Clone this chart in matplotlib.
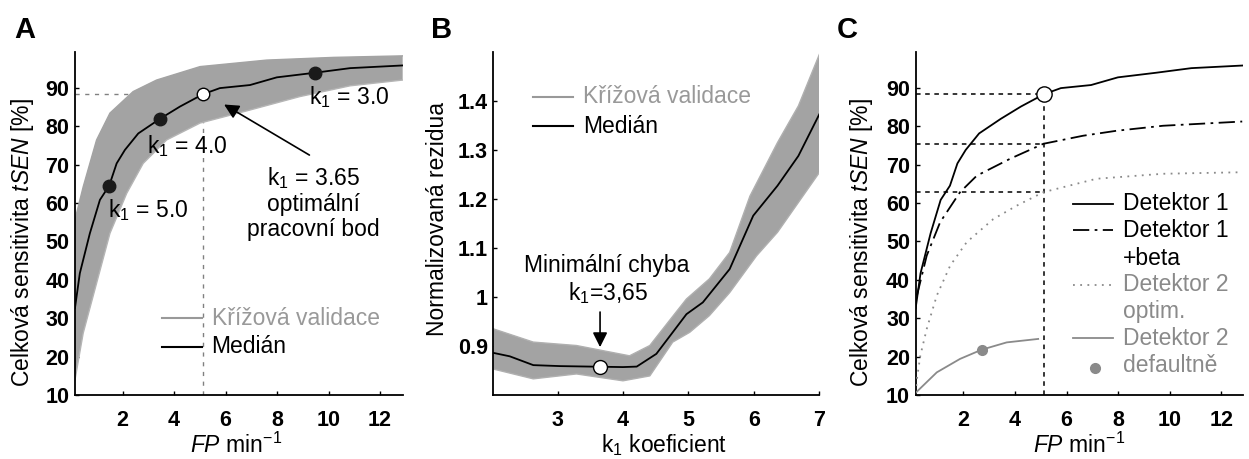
import matplotlib
matplotlib.use('Agg')
import matplotlib.pyplot as plt
import numpy as np

plt.rcParams['font.family'] = ['Liberation Sans', 'DejaVu Sans']
plt.rcParams['mathtext.fontset'] = 'custom'
plt.rcParams['mathtext.rm'] = 'Liberation Sans'
plt.rcParams['mathtext.it'] = 'Liberation Sans:italic'
plt.rcParams['mathtext.bf'] = 'Liberation Sans:bold'

# --- A: krizova validace, median krivka (FP/min vs. tSEN) ---
fp_med = [0.15, 0.34, 0.73, 1.12, 1.48, 1.77, 2.09, 2.61, 3.45, 4.23, 5.12,
          5.78, 6.95, 7.99, 9.47, 10.84, 12.88]
sen_med = [32.6, 41.7, 52.1, 60.8, 64.5, 70.3, 73.8, 78.1, 81.9, 85.1, 88.3,
           89.9, 90.7, 92.7, 93.9, 95.1, 95.8]
# obalka sedeho svazku krivek
fp_hi = [0.15, 0.47, 0.99, 1.51, 2.41, 3.32, 5.01, 7.60, 10.19, 12.88]
sen_hi = [55.6, 64.2, 76.4, 83.4, 89.0, 92.0, 95.5, 97.2, 97.9, 98.3]
fp_lo = [0.15, 0.47, 0.99, 1.51, 2.16, 2.80, 3.71, 5.01, 6.95, 8.89, 10.84, 12.88]
sen_lo = [13.9, 26.1, 39.1, 52.1, 62.5, 70.3, 76.4, 80.8, 84.2, 87.7, 90.5, 92.0]
# body pro ruzne k1
k_vals = ['5.0', '4.0', '3.0']
k_fp = [1.48, 3.45, 9.47]
k_sen = [64.5, 81.9, 93.9]
k_txt_xy = [(3.0, 58.2), (4.49, 74.7), (10.8, 87.7)]
opt_k = 3.65
opt_fp = 5.12
opt_sen = 88.3

# --- B: normalizovana rezidua vs. k1 ---
k1 = [2.02, 2.27, 2.63, 3.04, 3.51, 4.00, 4.21, 4.51, 4.76, 4.97, 5.22, 5.63,
      5.99, 6.36, 6.68, 7.0]
res_med = [0.886, 0.879, 0.861, 0.859, 0.858, 0.857, 0.858, 0.884, 0.928,
           0.965, 0.989, 1.057, 1.166, 1.227, 1.288, 1.373]
k1_hi = [2.02, 2.63, 3.29, 4.10, 4.41, 4.81, 4.97, 5.32, 5.63, 5.94, 6.36, 6.68, 7.0]
res_hi = [0.935, 0.908, 0.901, 0.880, 0.901, 0.969, 0.996, 1.037, 1.091, 1.206,
          1.315, 1.390, 1.495]
k1_lo = [2.02, 2.63, 3.29, 4.00, 4.41, 4.76, 5.02, 5.32, 5.63, 6.04, 6.36, 6.68, 7.0]
res_lo = [0.853, 0.833, 0.843, 0.829, 0.839, 0.908, 0.928, 0.962, 1.009, 1.084,
          1.132, 1.193, 1.254]
min_k = 3.65
min_res = 0.858

# --- C: porovnani detektoru ---
fp_b = [0.20, 0.58, 1.10, 1.87, 2.52, 3.81, 5.10, 6.64, 7.94, 9.74, 12.81]
sen_b = [35.9, 46.3, 55.0, 62.8, 67.1, 71.5, 75.4, 77.5, 78.8, 80.1, 81.2]
fp_d2 = [0.15, 0.20, 0.33, 0.58, 0.97, 1.49, 2.13, 3.16, 4.07, 5.10, 7.16, 9.74, 12.81]
sen_d2 = [10.5, 14.2, 20.2, 27.2, 35.9, 43.7, 49.8, 55.8, 59.3, 62.8, 66.3, 67.6, 68.0]
fp_def = [0.17, 0.97, 1.87, 2.71, 3.68, 4.90]
sen_def = [10.7, 15.9, 19.4, 21.8, 23.7, 24.6]
def_pt = (2.71, 21.8)
op_levels = [88.3, 75.4, 62.8]

BAND = '#a3a3a3'
LGRAY = '#999999'
DGRAY = '#8a8a8a'
FS = 16.5      # popisky, legendy
TFS = 15.5     # cisla na osach

fig = plt.figure(figsize=(12.49, 4.59), dpi=100)
axA = fig.add_axes([0.0600, 0.1394, 0.2624, 0.7473])
axB = fig.add_axes([0.3950, 0.1394, 0.2610, 0.7473])
axC = fig.add_axes([0.7331, 0.1394, 0.2623, 0.7473])

for ax in (axA, axB, axC):
    ax.spines['top'].set_visible(False)
    ax.spines['right'].set_visible(False)
    ax.spines['left'].set_linewidth(1.3)
    ax.spines['bottom'].set_linewidth(1.3)
    ax.tick_params(direction='in', length=3, width=1, labelsize=TFS)
    ax.tick_params(axis='x', pad=11)
    ax.tick_params(axis='y', pad=4)

fp_label = r'$\it{FP}$ min$^{\mathregular{-1}}$'
sen_label = r'Celková sensitivita $\it{tSEN}$ [%]'


def labels(ax, xl, yl, xpos, ypos):
    ax.set_xlabel(xl, fontsize=FS)
    ax.set_ylabel(yl, fontsize=FS)
    ax.xaxis.label.set_va('center')
    ax.yaxis.label.set_va('center')
    ax.xaxis.set_label_coords(*xpos)
    ax.yaxis.set_label_coords(*ypos)
    for lab in ax.get_xticklabels() + ax.get_yticklabels():
        lab.set_fontweight('bold')


# ---------------- A ----------------
ax = axA
ax.set_xlim(0.15, 12.88)
ax.set_ylim(10, 99.3)
ax.plot([opt_fp, opt_fp], [10, opt_sen], ls=(0, (3, 4)), color='#808080', lw=1, zorder=1)
ax.plot([0.15, opt_fp], [opt_sen, opt_sen], ls=(0, (3, 4)), color='#808080', lw=1, zorder=1)
ax.fill(np.r_[fp_hi, fp_lo[::-1]], np.r_[sen_hi, sen_lo[::-1]], color=BAND, lw=0, zorder=2)
ax.plot(fp_hi, sen_hi, color=BAND, lw=1, zorder=2)
ax.plot(fp_lo, sen_lo, color='#b5b5b5', lw=1, zorder=2)
ax.plot(fp_med, sen_med, color='k', lw=1.3, zorder=3)
ax.plot(k_fp, k_sen, 'o', ms=9, color='#1a1a1a', zorder=4)
ax.plot([opt_fp], [opt_sen], 'o', ms=9, mfc='white', mec='k', mew=1, zorder=4)
for v, (tx, ty) in zip(k_vals, k_txt_xy):
    ax.text(tx, ty, 'k$_{1}$ = ' + v, fontsize=FS, ha='center', va='center', zorder=5)
ax.text(9.4, 60.0, 'k$_{1}$ = ' + f'{opt_k:.2f}' + '\noptimální\npracovní bod',
        fontsize=FS, ha='center', va='center', linespacing=1.1)
ax.annotate('', xy=(5.85, 86.0), xytext=(9.35, 72.1),
            arrowprops=dict(arrowstyle='-|>', color='k', lw=1.2, mutation_scale=22))
ax.set_xticks([2, 4, 6, 8, 10, 12])
ax.set_yticks(range(10, 100, 10))
labels(ax, fp_label, sen_label, (0.493, -0.146), (-0.159, 0.446))
ax.plot([0.265, 0.387], [0.224, 0.224], color=LGRAY, lw=1.5, transform=ax.transAxes)
ax.plot([0.265, 0.387], [0.141, 0.141], color='k', lw=1.5, transform=ax.transAxes)
ax.text(0.417, 0.224, 'Křížová validace', color=LGRAY, fontsize=FS, va='center',
        transform=ax.transAxes)
ax.text(0.417, 0.141, 'Medián', color='k', fontsize=FS, va='center', transform=ax.transAxes)

# ---------------- B ----------------
ax = axB
ax.set_xlim(2.02, 7.0)
ax.set_ylim(0.8, 1.5)
ax.fill(np.r_[k1_hi, k1_lo[::-1]], np.r_[res_hi, res_lo[::-1]], color=BAND, lw=0, zorder=2)
ax.plot(k1_hi, res_hi, color='#b0b0b0', lw=1, zorder=2)
ax.plot(k1_lo, res_lo, color='#b0b0b0', lw=1, zorder=2)
ax.plot(k1, res_med, color='k', lw=1.3, zorder=3)
ax.plot([min_k], [min_res], 'o', ms=10, mfc='white', mec='k', mew=1, zorder=4)
ax.text(3.75, 1.064, 'Minimální chyba', fontsize=FS, ha='center', va='center')
ax.text(3.78, 1.009, 'k$_{1}$=' + f'{min_k:.2f}'.replace('.', ','), fontsize=FS,
        ha='center', va='center')
ax.annotate('', xy=(min_k, 0.892), xytext=(min_k, 0.975),
            arrowprops=dict(arrowstyle='-|>', color='k', lw=1.2, mutation_scale=22))
ax.set_xticks([3, 4, 5, 6, 7])
ax.set_yticks([0.9, 1.0, 1.1, 1.2, 1.3, 1.4])
ax.set_yticklabels(['0.9', '1', '1.1', '1.2', '1.3', '1.4'])
labels(ax, 'k$_{1}$ koeficient', 'Normalizovaná rezidua', (0.524, -0.146), (-0.172, 0.513))
ax.plot([0.123, 0.245], [0.870, 0.870], color=LGRAY, lw=1.5, transform=ax.transAxes)
ax.plot([0.123, 0.245], [0.784, 0.784], color='k', lw=1.5, transform=ax.transAxes)
ax.text(0.276, 0.870, 'Křížová validace', color=LGRAY, fontsize=FS, va='center',
        transform=ax.transAxes)
ax.text(0.276, 0.784, 'Medián', color='k', fontsize=FS, va='center', transform=ax.transAxes)

# ---------------- C ----------------
ax = axC
ax.set_xlim(0.15, 12.85)
ax.set_ylim(10, 99.3)
dash = (0, (3, 3))
ax.plot([opt_fp, opt_fp], [10, opt_sen], ls=dash, color='k', lw=1.1, zorder=1)
for lv in op_levels:
    ax.plot([0.15, opt_fp], [lv, lv], ls=dash, color='k', lw=1.1, zorder=1)
ax.plot(fp_med, sen_med, color='k', lw=1.3, zorder=3)
ax.plot(fp_b, sen_b, color='k', lw=1.3, ls=(0, (9, 3, 1.5, 3)), zorder=3)
ax.plot(fp_d2, sen_d2, color=DGRAY, lw=1.3, ls=(0, (1, 3)), zorder=3)
ax.plot(fp_def, sen_def, color=DGRAY, lw=1.3, zorder=3)
ax.plot([def_pt[0]], [def_pt[1]], 'o', ms=7, color=DGRAY, zorder=4)
ax.plot([opt_fp], [opt_sen], 'o', ms=11, mfc='white', mec='k', mew=1, zorder=4)
ax.set_xticks([2, 4, 6, 8, 10, 12])
ax.set_yticks(range(10, 100, 10))
labels(ax, fp_label, sen_label, (0.498, -0.146), (-0.164, 0.446))

lx = [0.479, 0.603]
tx = 0.634
ax.plot(lx, [0.557, 0.557], color='k', lw=1.3, transform=ax.transAxes)
ax.plot(lx, [0.481, 0.481], color='k', lw=1.3, ls=(0, (9, 3, 1.5, 3)), transform=ax.transAxes)
ax.plot(lx, [0.321, 0.321], color=DGRAY, lw=1.3, ls=(0, (1, 3)), transform=ax.transAxes)
ax.plot(lx, [0.165, 0.165], color=DGRAY, lw=1.3, transform=ax.transAxes)
ax.plot([0.547], [0.078], 'o', ms=7, color=DGRAY, transform=ax.transAxes)
rows = [('Detektor 1', 0.557, 'k'), ('Detektor 1', 0.481, 'k'), ('+beta', 0.399, 'k'),
        ('Detektor 2', 0.321, DGRAY), ('optim.', 0.243, DGRAY),
        ('Detektor 2', 0.165, DGRAY), ('defaultně', 0.087, DGRAY)]
for s, yy, c in rows:
    ax.text(tx, yy, s, color=c, fontsize=FS, va='center', transform=ax.transAxes)

for lab, xx in (('A', 14), ('B', 431), ('C', 837)):
    fig.text(xx / 1249, 1 - 38 / 459, lab, fontsize=21, fontweight='bold')

fig.savefig('out.png', dpi=100)
